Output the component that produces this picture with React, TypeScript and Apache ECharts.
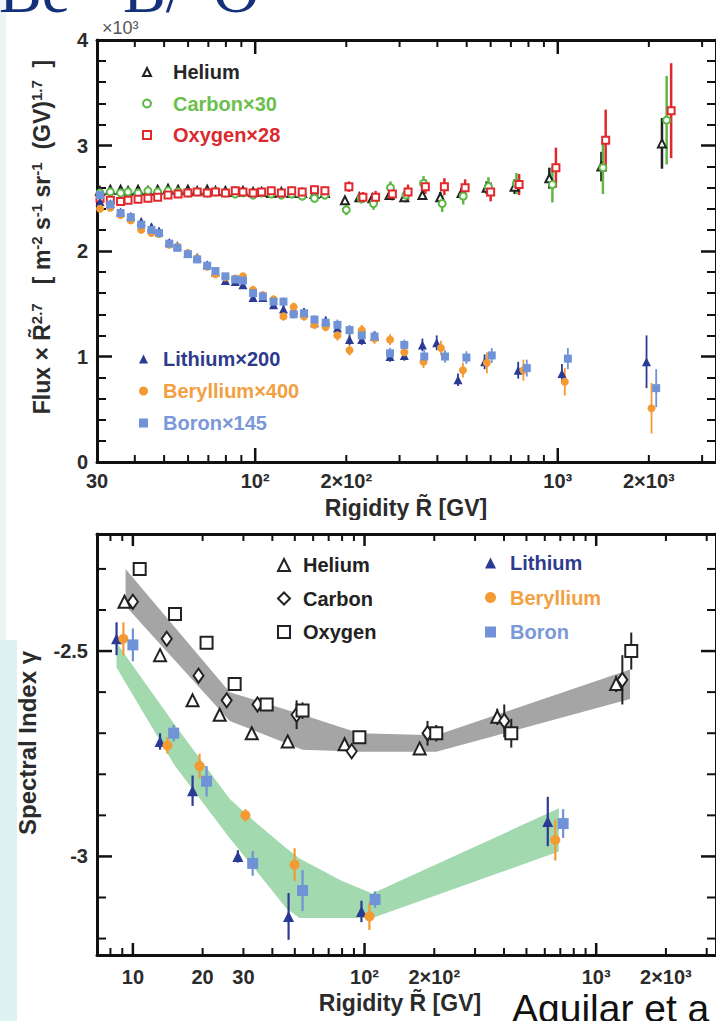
import React, { useEffect, useRef } from "react";
import * as echarts from "echarts";

const FONT = "'Liberation Sans', Arial, Helvetica, sans-serif";
const TXT = "#2b2b2b";
const AX = "#111";
const HE_C = "#222222";
const C_C = "#5cb946";
const O_C = "#e0282d";
const LI_C = "#2b3a94";
const BE_C = "#f39a33";
const B_C = "#6f93d6";

// ================= TOP PANEL: Flux x R^2.7 =================
const TOP_X_LABEL_VALUES = [30, 100, 200, 1000, 2000];
const TOP_X_LABELS = ["30", "10²", "2×10²", "10³", "2×10³"];
const TOP_X_MAJOR = [100, 1000];
const TOP_X_MINOR = [40, 50, 60, 70, 80, 90, 200, 300, 400, 500, 600, 700, 800, 900, 2000, 3000];

const HECO_R_LOW = [30.7, 33.2, 35.9, 38.0, 41.0, 44.2, 47.6, 51.5, 55.6, 59.9, 64.3, 69.4, 73.9, 79.7, 85.9, 91.1, 98.4, 105, 113, 122, 132, 143, 157, 170];
const HE_R_HIGH = [198, 221, 244, 278, 311, 357, 409, 481, 582, 720, 938, 1394, 2210];
const C_R_HIGH = [200, 224, 246, 280, 315, 360, 415, 487, 590, 730, 960, 1410, 2290];
const O_R_HIGH = [204, 227, 250, 284, 320, 365, 422, 494, 600, 745, 986, 1440, 2370];

const HE_V = [2.57, 2.58, 2.58, 2.57, 2.58, 2.57, 2.58, 2.59, 2.58, 2.58, 2.57, 2.58, 2.57, 2.57, 2.56, 2.57, 2.56, 2.56, 2.55, 2.56, 2.55, 2.55, 2.54, 2.55, 2.48, 2.51, 2.50, 2.53, 2.51, 2.53, 2.51, 2.55, 2.60, 2.61, 2.69, 2.80, 3.02];
const HE_E = [0.02, 0.02, 0.02, 0.02, 0.02, 0.02, 0.02, 0.02, 0.02, 0.02, 0.02, 0.02, 0.02, 0.02, 0.02, 0.02, 0.02, 0.02, 0.025, 0.025, 0.025, 0.025, 0.03, 0.03, 0.03, 0.03, 0.035, 0.035, 0.04, 0.04, 0.05, 0.05, 0.06, 0.07, 0.10, 0.14, 0.24];
const C_V = [2.55, 2.56, 2.55, 2.56, 2.55, 2.57, 2.56, 2.57, 2.56, 2.55, 2.56, 2.55, 2.56, 2.55, 2.54, 2.55, 2.53, 2.55, 2.54, 2.53, 2.54, 2.52, 2.50, 2.53, 2.39, 2.50, 2.45, 2.60, 2.53, 2.64, 2.45, 2.52, 2.61, 2.64, 2.63, 2.79, 3.24];
const C_E = [0.03, 0.03, 0.03, 0.03, 0.03, 0.03, 0.03, 0.03, 0.03, 0.03, 0.03, 0.03, 0.03, 0.03, 0.03, 0.03, 0.035, 0.035, 0.035, 0.035, 0.04, 0.04, 0.04, 0.04, 0.05, 0.05, 0.06, 0.06, 0.07, 0.07, 0.08, 0.08, 0.09, 0.10, 0.17, 0.25, 0.42];
const O_V = [2.50, 2.48, 2.47, 2.48, 2.49, 2.50, 2.51, 2.53, 2.54, 2.55, 2.56, 2.55, 2.56, 2.55, 2.57, 2.56, 2.55, 2.56, 2.57, 2.55, 2.57, 2.56, 2.58, 2.57, 2.61, 2.51, 2.51, 2.54, 2.56, 2.61, 2.61, 2.60, 2.56, 2.63, 2.79, 3.05, 3.33];
const O_E = [0.03, 0.03, 0.03, 0.03, 0.03, 0.03, 0.03, 0.03, 0.03, 0.03, 0.03, 0.03, 0.03, 0.03, 0.03, 0.03, 0.035, 0.035, 0.035, 0.035, 0.04, 0.04, 0.04, 0.04, 0.05, 0.05, 0.06, 0.06, 0.07, 0.07, 0.08, 0.08, 0.09, 0.10, 0.19, 0.29, 0.45];

const LBB_R_LOW = [30.7, 33.2, 35.9, 38.8, 42.0, 45.4, 48.1, 52.0, 55.3, 59.9, 64.3, 69.4, 73.9, 79.7, 85.9, 91.1, 98.4, 106, 115, 124, 134, 145, 157, 171, 187, 205, 225, 248, 279, 311];
const LI_R_HIGH = [357, 398, 468, 573, 740, 1032, 1965];
const BE_R_HIGH = [360, 411, 486, 583, 770, 1055, 2041];
const B_R_HIGH = [362, 424, 499, 605, 790, 1080, 2115];

const LI_V = [2.47, 2.45, 2.37, 2.33, 2.28, 2.23, 2.19, 2.08, 2.05, 1.98, 1.94, 1.87, 1.80, 1.72, 1.71, 1.68, 1.56, 1.56, 1.49, 1.45, 1.44, 1.42, 1.32, 1.34, 1.27, 1.16, 1.16, 1.19, 1.00, 1.01, 1.11, 1.13, 0.78, 0.95, 0.87, 0.84, 0.95];
const BE_V = [2.40, 2.41, 2.34, 2.29, 2.20, 2.17, 2.16, 2.06, 2.04, 1.98, 1.93, 1.85, 1.78, 1.75, 1.74, 1.76, 1.63, 1.58, 1.54, 1.38, 1.47, 1.38, 1.30, 1.28, 1.20, 1.06, 1.25, 1.17, 1.16, 1.04, 0.95, 1.08, 0.87, 0.94, 0.87, 0.76, 0.51];
const B_V = [2.53, 2.44, 2.36, 2.32, 2.25, 2.20, 2.17, 2.07, 2.03, 1.97, 1.92, 1.86, 1.81, 1.76, 1.73, 1.72, 1.60, 1.57, 1.52, 1.52, 1.40, 1.41, 1.35, 1.32, 1.30, 1.25, 1.20, 1.19, 1.03, 1.11, 1.00, 1.00, 0.99, 1.01, 0.89, 0.98, 0.70];
const LI_E = [0.03, 0.03, 0.03, 0.03, 0.03, 0.03, 0.03, 0.03, 0.03, 0.03, 0.03, 0.03, 0.03, 0.03, 0.03, 0.03, 0.04, 0.04, 0.04, 0.04, 0.04, 0.04, 0.04, 0.04, 0.05, 0.05, 0.05, 0.05, 0.05, 0.05, 0.06, 0.07, 0.06, 0.07, 0.08, 0.09, 0.25];
const BE_E = [0.03, 0.03, 0.03, 0.03, 0.03, 0.03, 0.03, 0.03, 0.03, 0.03, 0.03, 0.03, 0.03, 0.03, 0.03, 0.03, 0.04, 0.04, 0.04, 0.04, 0.04, 0.04, 0.04, 0.04, 0.05, 0.05, 0.05, 0.05, 0.05, 0.05, 0.06, 0.07, 0.07, 0.10, 0.10, 0.13, 0.24];
const B_E = [0.03, 0.03, 0.03, 0.03, 0.03, 0.03, 0.03, 0.03, 0.03, 0.03, 0.03, 0.03, 0.03, 0.03, 0.03, 0.03, 0.04, 0.04, 0.04, 0.04, 0.04, 0.04, 0.04, 0.04, 0.05, 0.05, 0.05, 0.05, 0.05, 0.05, 0.06, 0.06, 0.06, 0.07, 0.08, 0.10, 0.18];

// ================= BOTTOM PANEL: spectral index =================
const BOT_X_LABEL_VALUES = [10, 20, 30, 100, 200, 1000, 2000];
const BOT_X_LABELS = ["10", "20", "30", "10²", "2×10²", "10³", "2×10³"];
const BOT_X_MAJOR = [10, 100, 1000];
const BOT_X_MINOR = [8, 9, 20, 30, 40, 50, 60, 70, 80, 90, 200, 300, 400, 500, 600, 700, 800, 900, 2000, 3000];
const BOT_Y_MAJOR = [-3, -2.5];
const BOT_Y_LABELS = ["-3", "-2.5"];
const BOT_Y_MINOR = [-3.2, -3.1, -2.9, -2.8, -2.7, -2.6, -2.4, -2.3];

const BHE_R = [9.2, 13.1, 18.1, 23.7, 32.6, 46.6, 82, 173, 374, 1219];
const BHE_V = [-2.38, -2.51, -2.62, -2.655, -2.70, -2.72, -2.727, -2.737, -2.66, -2.58];
const BHE_E = [0.01, 0.01, 0.01, 0.01, 0.01, 0.01, 0.01, 0.01, 0.02, 0.02];
const BC_R = [10.0, 14.0, 19.2, 25.4, 34.5, 50.9, 88, 187, 401, 1297];
const BC_V = [-2.38, -2.47, -2.56, -2.62, -2.63, -2.655, -2.744, -2.70, -2.67, -2.57];
const BC_E = [0.01, 0.01, 0.01, 0.01, 0.01, 0.035, 0.01, 0.03, 0.04, 0.06];
const BO_R = [10.7, 15.2, 20.8, 27.5, 37.8, 54, 95, 204, 430, 1417];
const BO_V = [-2.30, -2.41, -2.48, -2.58, -2.63, -2.645, -2.71, -2.70, -2.70, -2.50];
const BO_E = [0.01, 0.01, 0.015, 0.01, 0.01, 0.02, 0.01, 0.02, 0.035, 0.045];

const BLI_R = [8.5, 13.1, 18.1, 28.4, 47, 97, 618];
const BLI_V = [-2.47, -2.72, -2.84, -3.00, -3.146, -3.134, -2.915];
const BLI_E = [0.04, 0.02, 0.037, 0.015, 0.057, 0.026, 0.06];
const BBE_R = [9.1, 14.1, 19.4, 30.6, 49.9, 105, 666];
const BBE_V = [-2.47, -2.73, -2.78, -2.90, -3.02, -3.146, -2.96];
const BBE_E = [0.04, 0.02, 0.03, 0.015, 0.04, 0.033, 0.05];
const BB_R = [10.0, 15.0, 20.8, 32.9, 54, 111, 720];
const BB_V = [-2.485, -2.70, -2.817, -3.017, -3.083, -3.105, -2.92];
const BB_E = [0.04, 0.02, 0.037, 0.03, 0.05, 0.02, 0.035];

const GRAY_R = [9.3, 26.2, 54, 95, 204, 1400];
const GRAY_LO = [-2.39, -2.67, -2.74, -2.745, -2.745, -2.617];
const GRAY_HI = [-2.30, -2.60, -2.655, -2.70, -2.705, -2.545];
const GREEN_R = [8.5, 15.2, 26.2, 34.3, 46, 52.4, 80, 108, 690];
const GREEN_LO = [-2.54, -2.78, -2.956, -3.037, -3.127, -3.15, -3.15, -3.15, -2.988];
const GREEN_HI = [-2.48, -2.68, -2.86, -2.92, -2.98, -3.005, -3.06, -3.09, -2.883];

// ================= helpers =================
function pairs(R: number[], V: number[]) {
  return R.map((r, i) => [r, V[i]]);
}

function tickSeries(values: number[], dim: "x" | "y", other: number, len: number, width: number) {
  return {
    type: "custom",
    silent: true,
    clip: false,
    z: 20,
    data: values.map((v) => (dim === "x" ? [v, other] : [other, v])),
    encode: { x: 0, y: 1 },
    renderItem: (params: any, api: any) => {
      const cs = params.coordSys;
      const p = api.coord([api.value(0), api.value(1)]);
      const st = { stroke: AX, lineWidth: width };
      if (dim === "x") {
        const b = cs.y + cs.height;
        const t = cs.y;
        return {
          type: "group",
          children: [
            { type: "line", shape: { x1: p[0], y1: b, x2: p[0], y2: b - len }, style: st },
            { type: "line", shape: { x1: p[0], y1: t, x2: p[0], y2: t + len }, style: st },
          ],
        };
      }
      const l = cs.x;
      const r = cs.x + cs.width;
      return {
        type: "group",
        children: [
          { type: "line", shape: { x1: l, y1: p[1], x2: l + len, y2: p[1] }, style: st },
          { type: "line", shape: { x1: r, y1: p[1], x2: r - len, y2: p[1] }, style: st },
        ],
      };
    },
  };
}

function labelSeries(values: number[], labels: string[], dim: "x" | "y", other: number, offset: number) {
  return {
    type: "custom",
    silent: true,
    clip: false,
    z: 20,
    data: values.map((v) => (dim === "x" ? [v, other] : [other, v])),
    encode: { x: 0, y: 1 },
    renderItem: (params: any, api: any) => {
      const cs = params.coordSys;
      const p = api.coord([api.value(0), api.value(1)]);
      const base = {
        text: labels[params.dataIndex],
        fill: TXT,
        fontSize: 20,
        fontWeight: "bold",
        fontFamily: FONT,
        verticalAlign: "middle",
      };
      if (dim === "x") {
        return { type: "text", x: p[0], y: cs.y + cs.height + offset, style: { ...base, align: "center" } };
      }
      return { type: "text", x: cs.x - offset, y: p[1], style: { ...base, align: "right" } };
    },
  };
}

function errSeries(R: number[], V: number[], E: number[], color: string, width: number) {
  return {
    type: "custom",
    silent: true,
    z: 3,
    data: R.map((r, i) => [r, V[i], E[i]]),
    encode: { x: 0, y: 1 },
    renderItem: (params: any, api: any) => {
      const r = api.value(0);
      const v = api.value(1);
      const e = api.value(2);
      const a = api.coord([r, v - e]);
      const b = api.coord([r, v + e]);
      return { type: "line", shape: { x1: a[0], y1: a[1], x2: b[0], y2: b[1] }, style: { stroke: color, lineWidth: width } };
    },
  };
}

function bandSeries(R: number[], LO: number[], HI: number[], color: string) {
  return {
    type: "custom",
    silent: true,
    z: 1,
    data: [[R[0], LO[0]]],
    encode: { x: 0, y: 1 },
    renderItem: (params: any, api: any) => {
      const pts: number[][] = [];
      for (let i = 0; i < R.length; i++) pts.push(api.coord([R[i], HI[i]]));
      for (let i = R.length - 1; i >= 0; i--) pts.push(api.coord([R[i], LO[i]]));
      return { type: "polygon", shape: { points: pts }, style: { fill: color } };
    },
  };
}

function scatter(name: string, R: number[], V: number[], symbol: string, size: any, color: string, bw: number) {
  return {
    type: "scatter",
    name,
    data: pairs(R, V),
    symbol,
    symbolSize: size,
    z: 5,
    itemStyle: { color, borderWidth: bw, opacity: 1 },
  };
}

function logAxis(min: number, max: number, position: string) {
  return {
    type: "log",
    logBase: 10,
    min,
    max,
    position,
    axisLine: { show: true, onZero: false, lineStyle: { color: AX, width: 3 } },
    axisTick: { show: false },
    axisLabel: { show: false },
    splitLine: { show: false },
  };
}

function legendBox(left: number, top: number, icon: number, textPad: number, gap: number, items: { name: string; color: string }[]) {
  return {
    orient: "vertical",
    left,
    top,
    itemWidth: icon,
    itemHeight: icon,
    itemGap: gap,
    padding: 0,
    selectedMode: false,
    textStyle: { fontSize: 20, fontWeight: "bold", fontFamily: FONT, padding: [0, 0, 0, textPad] },
    data: items.map((it) => ({ name: it.name, textStyle: { color: it.color } })),
  };
}

const TITLE_STYLE = { fontSize: 64, lineHeight: 24, fontFamily: "'Liberation Serif', serif", fill: "#14307a", verticalAlign: "middle", align: "left" };

function topOption() {
  const HE_R = [...HECO_R_LOW, ...HE_R_HIGH];
  const C_R = [...HECO_R_LOW, ...C_R_HIGH];
  const O_R = [...HECO_R_LOW, ...O_R_HIGH];
  const LI_R = [...LBB_R_LOW, ...LI_R_HIGH];
  const BE_R = [...LBB_R_LOW, ...BE_R_HIGH];
  const B_R = [...LBB_R_LOW, ...B_R_HIGH];
  const yAxisBase = {
    type: "value",
    min: 0,
    max: 4,
    interval: 1,
    axisLine: { show: true, onZero: false, lineStyle: { color: AX, width: 3 } },
    axisTick: { show: true, inside: true, length: 15, lineStyle: { color: AX, width: 2.5 } },
    minorTick: { show: true, splitNumber: 5, length: 9, lineStyle: { color: AX, width: 2 } },
    splitLine: { show: false },
    minorSplitLine: { show: false },
  };
  return {
    animation: false,
    backgroundColor: "transparent",
    grid: { left: 97, top: 40, width: 620, height: 422 },
    xAxis: [logAxis(30, 3334, "bottom"), logAxis(30, 3334, "top")],
    yAxis: [
      { ...yAxisBase, position: "left", axisLabel: { margin: 9, fontSize: 20, fontWeight: "bold", color: TXT, fontFamily: FONT } },
      { ...yAxisBase, position: "right", axisLabel: { show: false } },
    ],
    legend: [
      legendBox(142, 62, 8, 17, 11.5, [
        { name: "Helium", color: "#262626" },
        { name: "Carbon×30", color: "#6cbf4d" },
        { name: "Oxygen×28", color: "#d92a2f" },
      ]),
      legendBox(139, 349, 9, 10, 12, [
        { name: "Lithium×200", color: "#2e3a8c" },
        { name: "Beryllium×400", color: "#f2a041" },
        { name: "Boron×145", color: "#7b98d8" },
      ]),
    ],
    graphic: [
      { type: "rect", shape: { x: 0, y: 0, width: 6, height: 520 }, style: { fill: "#eef4f5" }, z: -1 },
      { type: "text", x: -1, y: -9.5, style: { ...TITLE_STYLE, text: "Be" } },
      { type: "text", x: 123, y: -9.5, style: { ...TITLE_STYLE, text: "B/" } },
      { type: "text", x: 213, y: -9.5, style: { ...TITLE_STYLE, text: "O" } },
      { type: "text", x: 102, y: 28, style: { text: "×10³", fontSize: 18, lineHeight: 18, fontFamily: FONT, fill: "#555", verticalAlign: "middle", align: "left" } },
      {
        type: "text",
        x: 42,
        y: 237,
        rotation: Math.PI / 2,
        style: {
          text: "{b|Flux × R̃}{s|2.7}{b|   [ m}{s|-2}{b| s}{s|-1}{b| sr}{s|-1}{b|  (GV)}{s|1.7}{b|  ]}",
          align: "center",
          verticalAlign: "middle",
          rich: {
            b: { fontSize: 23, fontWeight: "bold", fontFamily: FONT, fill: TXT, lineHeight: 26 },
            s: { fontSize: 15, fontWeight: "bold", fontFamily: FONT, fill: TXT, verticalAlign: "top", lineHeight: 15 },
          },
        },
      },
      { type: "text", x: 406, y: 508, style: { text: "Rigidity R̃ [GV]", fontSize: 23, fontWeight: "bold", fontFamily: FONT, fill: TXT, align: "center", verticalAlign: "middle" } },
    ],
    series: [
      tickSeries(TOP_X_MAJOR, "x", 2, 14, 2.5),
      tickSeries(TOP_X_MINOR, "x", 2, 7, 2),
      labelSeries(TOP_X_LABEL_VALUES, TOP_X_LABELS, "x", 2, 19),
      errSeries(HE_R, HE_V, HE_E, HE_C, 2.5),
      errSeries(C_R, C_V, C_E, C_C, 2.5),
      errSeries(O_R, O_V, O_E, O_C, 2.5),
      errSeries(LI_R, LI_V, LI_E, LI_C, 1.8),
      errSeries(BE_R, BE_V, BE_E, BE_C, 1.8),
      errSeries(B_R, B_V, B_E, B_C, 1.8),
      scatter("Helium", HE_R, HE_V, "emptyTriangle", 8, HE_C, 1.3),
      scatter("Carbon×30", C_R, C_V, "emptyCircle", 7, C_C, 1.3),
      scatter("Oxygen×28", O_R, O_V, "emptyRect", 7, O_C, 1.3),
      scatter("Lithium×200", LI_R, LI_V, "triangle", 9, LI_C, 0),
      scatter("Beryllium×400", BE_R, BE_V, "circle", 8, BE_C, 0),
      scatter("Boron×145", B_R, B_V, "rect", 8, B_C, 0),
    ],
  };
}

function bottomOption() {
  const yAxisBase = {
    type: "value",
    min: -3.24,
    max: -2.215,
    axisLine: { show: true, onZero: false, lineStyle: { color: AX, width: 3 } },
    axisTick: { show: false },
    axisLabel: { show: false },
    splitLine: { show: false },
  };
  return {
    animation: false,
    backgroundColor: "transparent",
    grid: { left: 97, top: 14, width: 620, height: 421 },
    xAxis: [logAxis(7, 3290, "bottom"), logAxis(7, 3290, "top")],
    yAxis: [
      { ...yAxisBase, position: "left" },
      { ...yAxisBase, position: "right" },
    ],
    legend: [
      legendBox(277, 35, 12, 8, 13.5, [
        { name: "Helium", color: "#222" },
        { name: "Carbon", color: "#222" },
        { name: "Oxygen", color: "#222" },
      ]),
      legendBox(485, 33, 11, 9, 14.5, [
        { name: "Lithium", color: "#2e3a8c" },
        { name: "Beryllium", color: "#f2a041" },
        { name: "Boron", color: "#7b98d8" },
      ]),
    ],
    graphic: [
      { type: "rect", shape: { x: 0, y: 0, width: 6, height: 120 }, style: { fill: "#eef4f5" }, z: -1 },
      { type: "rect", shape: { x: 0, y: 120, width: 17, height: 381 }, style: { fill: "#def1f3" }, z: -1 },
      {
        type: "text",
        x: 27,
        y: 223,
        rotation: Math.PI / 2,
        style: { text: "Spectral Index γ", fontSize: 24, fontWeight: "bold", fontFamily: FONT, fill: TXT, align: "center", verticalAlign: "middle" },
      },
      { type: "text", x: 400, y: 483, style: { text: "Rigidity R̃ [GV]", fontSize: 23, fontWeight: "bold", fontFamily: FONT, fill: TXT, align: "center", verticalAlign: "middle" } },
      { type: "text", x: 512, y: 488.5, style: { text: "Aguilar et a", fontSize: 39, fontFamily: FONT, fill: "#111", align: "left", verticalAlign: "middle" } },
    ],
    series: [
      bandSeries(GRAY_R, GRAY_LO, GRAY_HI, "#a5a5a5"),
      bandSeries(GREEN_R, GREEN_LO, GREEN_HI, "#a3d9ae"),
      tickSeries(BOT_X_MAJOR, "x", -3, 12, 2.5),
      tickSeries(BOT_X_MINOR, "x", -3, 7, 2),
      tickSeries(BOT_Y_MAJOR, "y", 100, 15, 2.5),
      tickSeries(BOT_Y_MINOR, "y", 100, 9, 2),
      labelSeries(BOT_X_LABEL_VALUES, BOT_X_LABELS, "x", -3, 22),
      labelSeries(BOT_Y_MAJOR, BOT_Y_LABELS, "y", 100, 9),
      errSeries(BHE_R, BHE_V, BHE_E, HE_C, 2),
      errSeries(BC_R, BC_V, BC_E, HE_C, 2),
      errSeries(BO_R, BO_V, BO_E, HE_C, 2),
      errSeries(BLI_R, BLI_V, BLI_E, LI_C, 2.2),
      errSeries(BBE_R, BBE_V, BBE_E, BE_C, 2.2),
      errSeries(BB_R, BB_V, BB_E, B_C, 2.2),
      scatter("Helium", BHE_R, BHE_V, "emptyTriangle", 12, HE_C, 1.4),
      scatter("Carbon", BC_R, BC_V, "emptyDiamond", [10, 14], HE_C, 1.4),
      scatter("Oxygen", BO_R, BO_V, "emptyRect", 12, HE_C, 1.4),
      scatter("Lithium", BLI_R, BLI_V, "triangle", 11, LI_C, 0),
      scatter("Beryllium", BBE_R, BBE_V, "circle", 10, BE_C, 0),
      scatter("Boron", BB_R, BB_V, "rect", 11, B_C, 0),
    ],
  };
}

export default function App() {
  const topRef = useRef<HTMLDivElement>(null);
  const botRef = useRef<HTMLDivElement>(null);
  useEffect(() => {
    document.body.style.margin = "0";
    document.body.style.background = "#fff";
    const c1 = echarts.init(topRef.current as HTMLDivElement, null, { renderer: "svg" });
    const c2 = echarts.init(botRef.current as HTMLDivElement, null, { renderer: "svg" });
    c1.setOption(topOption() as any);
    c2.setOption(bottomOption() as any);
    return () => {
      c1.dispose();
      c2.dispose();
    };
  }, []);
  return (
    <div style={{ position: "absolute", left: 0, top: 0, width: 716, height: 1021, background: "#fff", overflow: "hidden" }}>
      <div ref={topRef} style={{ position: "absolute", left: 0, top: 0, width: 716, height: 520 }} />
      <div ref={botRef} style={{ position: "absolute", left: 0, top: 520, width: 716, height: 501 }} />
    </div>
  );
}
